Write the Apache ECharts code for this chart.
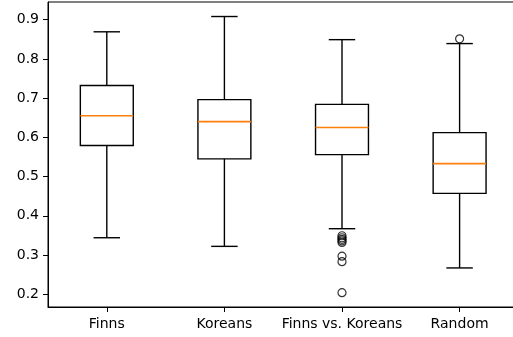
<!DOCTYPE html>
<html>
<head>
<meta charset="utf-8">
<script src="https://cdn.jsdelivr.net/npm/echarts@6/dist/echarts.min.js"></script>
<style>
html,body{margin:0;padding:0;background:#fff;overflow:hidden;width:513px;height:337px;}
#c{width:524px;height:337px;}
</style>
</head>
<body>
<div id="c"></div>
<script>
var categories = ["Finns", "Koreans", "Finns vs. Koreans", "Random"];
// [lower whisker, Q1, median, Q3, upper whisker]
var finns = [0.344, 0.579, 0.655, 0.732, 0.869];
var koreans = [0.322, 0.545, 0.640, 0.696, 0.908];
var finnsVsKoreans = [0.367, 0.556, 0.625, 0.684, 0.849];
var random = [0.267, 0.457, 0.533, 0.612, 0.839];
var outliersFinnsVsKoreans = [0.349, 0.344, 0.340, 0.336, 0.332, 0.297, 0.283, 0.204];
var outliersRandom = [0.851];
var yTicks = [0.2, 0.3, 0.4, 0.5, 0.6, 0.7, 0.8, 0.9];

var boxes = [finns, koreans, finnsVsKoreans, random];
var boxData = boxes.map(function (b, i) { return [i].concat(b); });
var outlierData = [];
outliersFinnsVsKoreans.forEach(function (v) { outlierData.push([2, v]); });
outliersRandom.forEach(function (v) { outlierData.push([3, v]); });

var font = 'DejaVu Sans';
var chart = echarts.init(document.getElementById('c'), null, {renderer: 'canvas'});

function renderBox(params, api) {
  var idx = api.value(0);
  var low = api.coord([idx, api.value(1)]);
  var q1 = api.coord([idx, api.value(2)]);
  var med = api.coord([idx, api.value(3)]);
  var q3 = api.coord([idx, api.value(4)]);
  var high = api.coord([idx, api.value(5)]);
  var band = api.size([1, 0])[0];
  var bw = band * 0.45;
  var cw = bw / 2;
  var x = low[0];
  var st = {stroke: '#000', lineWidth: 1.4, fill: null};
  return {
    type: 'group',
    children: [
      {type: 'rect', shape: {x: x - bw / 2, y: q3[1], width: bw, height: q1[1] - q3[1]}, style: {stroke: '#000', lineWidth: 1.4, fill: 'none'}},
      {type: 'line', shape: {x1: x, y1: q1[1], x2: x, y2: low[1]}, style: st},
      {type: 'line', shape: {x1: x, y1: q3[1], x2: x, y2: high[1]}, style: st},
      {type: 'line', shape: {x1: x - cw / 2, y1: low[1], x2: x + cw / 2, y2: low[1]}, style: st},
      {type: 'line', shape: {x1: x - cw / 2, y1: high[1], x2: x + cw / 2, y2: high[1]}, style: st},
      {type: 'line', shape: {x1: x - bw / 2, y1: med[1], x2: x + bw / 2, y2: med[1]}, style: {stroke: '#ff7f0e', lineWidth: 1.6}}
    ]
  };
}

chart.setOption({
  animation: false,
  backgroundColor: '#fff',
  grid: {left: 48, right: 5.6, top: 2, bottom: 30, show: true, borderColor: '#000', borderWidth: 1, backgroundColor: 'transparent'},
  xAxis: {
    type: 'category',
    data: categories,
    boundaryGap: true,
    axisLine: {show: true, lineStyle: {color: '#000', width: 1}},
    axisTick: {show: true, alignWithLabel: true, interval: 0, length: 5, lineStyle: {color: '#000', width: 1}},
    axisLabel: {color: '#000', fontFamily: font, fontSize: 14, margin: 10, interval: 0},
    splitLine: {show: false}
  },
  yAxis: {
    type: 'value',
    min: 0.1674,
    max: 0.945,
    axisLine: {show: true, lineStyle: {color: '#000', width: 1}},
    axisTick: {show: true, length: 5, customValues: yTicks, lineStyle: {color: '#000', width: 1}},
    axisLabel: {color: '#000', fontFamily: font, fontSize: 14, margin: 9, customValues: yTicks,
      formatter: function (v) { return v.toFixed(1); }},
    splitLine: {show: false}
  },
  series: [
    {
      type: 'custom',
      renderItem: renderBox,
      data: boxData,
      encode: {x: 0, y: [1, 2, 3, 4, 5]},
      z: 2
    },
    {
      type: 'scatter',
      data: outlierData,
      symbol: 'circle',
      symbolSize: 8,
      itemStyle: {color: 'rgba(0,0,0,0)', borderColor: '#000', borderWidth: 1.2},
      z: 3
    }
  ]
});
</script>
</body>
</html>
